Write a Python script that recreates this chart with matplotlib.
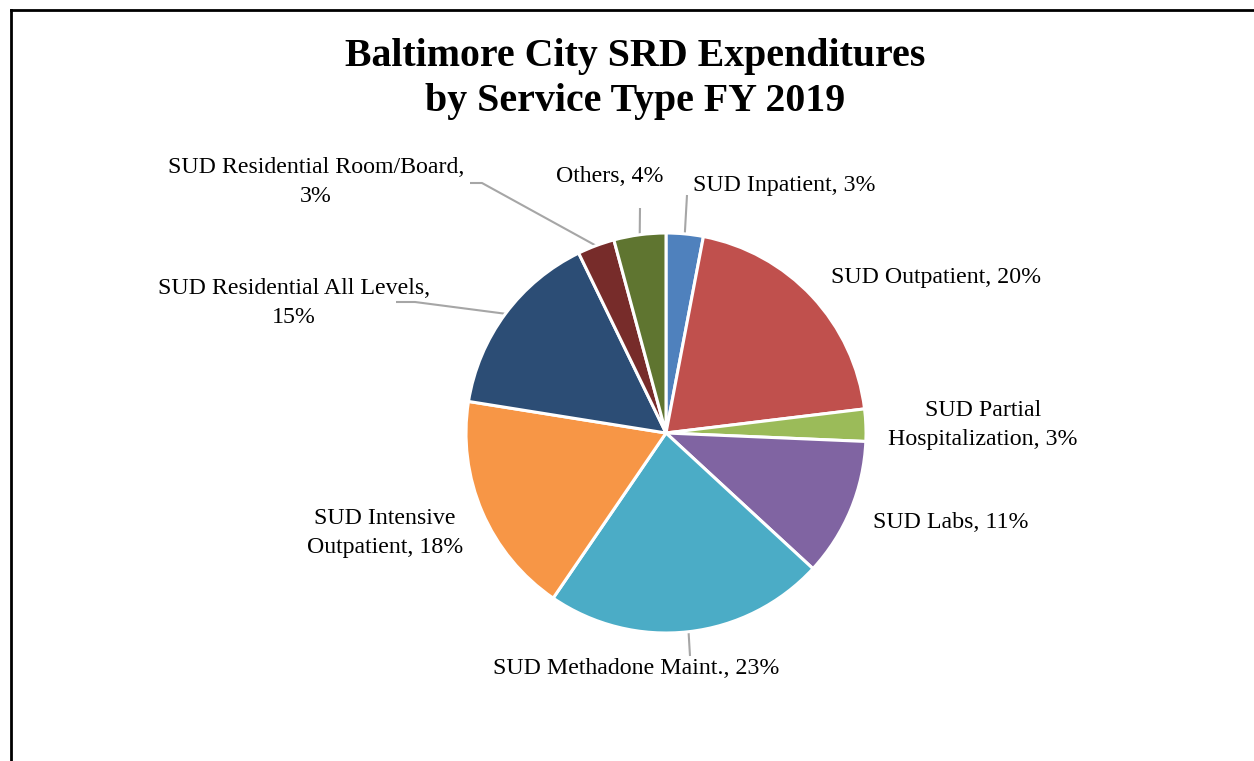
import numpy as np
import matplotlib
matplotlib.use("Agg")
import matplotlib.pyplot as plt
from matplotlib.lines import Line2D

# Expenditure share by service type (percent)
services = [
    "SUD Inpatient",
    "SUD Outpatient",
    "SUD Partial\nHospitalization",
    "SUD Labs",
    "SUD Methadone Maint.",
    "SUD Intensive\nOutpatient",
    "SUD Residential All Levels,\n",
    "SUD Residential Room/Board,\n",
    "Others",
]
shares = [3.0, 20.1, 2.6, 11.2, 22.7, 18.0, 15.3, 3.0, 4.2]
colors = ["#4F81BD", "#C0504D", "#9BBB59", "#8064A2", "#4BACC6",
          "#F79646", "#2C4D75", "#772C2A", "#5F7530"]

W, H = 1254, 761
fig = plt.figure(figsize=(W / 100, H / 100), dpi=100)
ax = fig.add_axes([0, 0, 1, 1])
ax.set_xlim(0, W)
ax.set_ylim(0, H)
ax.set_aspect("equal")
ax.axis("off")


def px(x, y):
    """Pixel position (origin top-left) to axes data coordinates."""
    return x, H - y


serif = "Liberation Serif"
cx, cy = px(666, 433)
radius = 200

wedges, _ = ax.pie(
    shares, colors=colors, startangle=90, counterclock=False,
    center=(cx, cy), radius=radius, frame=True,
    wedgeprops=dict(edgecolor="white", linewidth=2.2),
)
ax.set_xlim(0, W)
ax.set_ylim(0, H)
ax.axis("off")


def label_text(name, v):
    sep = "" if name.endswith("\n") else ", "
    return f"{name}{sep}{v:.0f}%"


# label anchor positions (pixels) and alignment
label_pos = [
    (693, 185, "left"),
    (831, 277, "left"),
    (983, 425, "center"),
    (873, 523, "left"),
    (636, 668, "center"),
    (385, 533, "center"),
    (294, 303, "center"),
    (316, 182, "center"),
    (610, 177, "center"),
]

for name, v, (x, y, ha) in zip(services, shares, label_pos):
    ax.text(*px(x, y), label_text(name, v), ha=ha, va="center",
            fontsize=17.2, family=serif, color="black", linespacing=1.45)

# leader lines: start point(s) near label, ending at the wedge's outer midpoint
leaders = {
    0: [(687, 195)],
    4: [(690, 656)],
    6: [(396, 302), (415, 302)],
    7: [(470, 183), (482, 183)],
    8: [(640, 208)],
}
for idx, pts in leaders.items():
    w = wedges[idx]
    mid = np.deg2rad((w.theta1 + w.theta2) / 2)
    ex, ey = cx + radius * np.cos(mid), cy + radius * np.sin(mid)
    xs = [px(*p)[0] for p in pts] + [ex]
    ys = [px(*p)[1] for p in pts] + [ey]
    ax.add_line(Line2D(xs, ys, color="#A6A6A6", linewidth=1.5,
                       solid_capstyle="butt", zorder=0))

# title
ax.text(*px(635, 79), "Baltimore City SRD Expenditures\nby Service Type FY 2019",
        ha="center", va="center", fontsize=28.7, fontweight="bold",
        family=serif, linespacing=1.3)

# outer frame
ax.add_line(Line2D([11, 11], [0, H - 10], color="black", linewidth=2,
                   solid_capstyle="projecting"))
ax.add_line(Line2D([11, W], [H - 10, H - 10], color="black", linewidth=2,
                   solid_capstyle="projecting"))

fig.savefig("out.png", dpi=100, facecolor="white")
